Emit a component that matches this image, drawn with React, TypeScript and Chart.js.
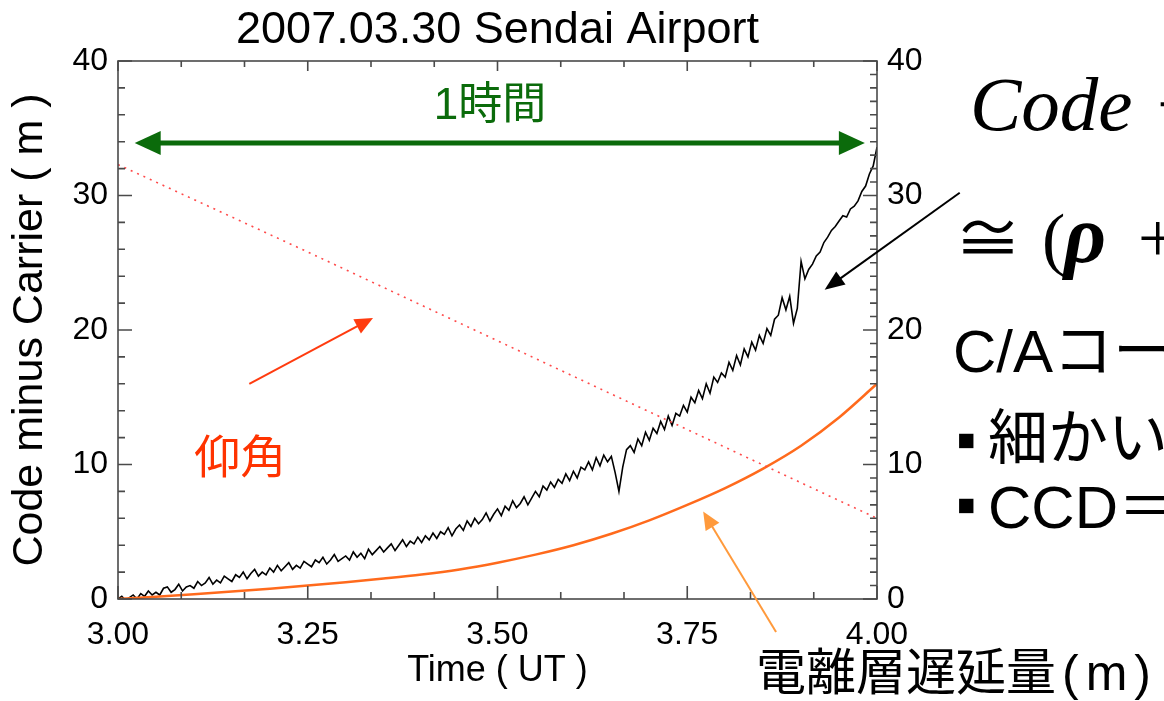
import React, { useEffect, useRef } from "react";
import { Chart, registerables } from "chart.js";

Chart.register(...registerables);

// ---------- data ----------
const TITLE = "2007.03.30 Sendai Airport";
const X_TITLE = "Time ( UT )";
const Y_TITLE = "Code minus Carrier ( m )";

const X_TICK_VALUES = [3.0, 3.25, 3.5, 3.75, 4.0];
const Y_TICK_VALUES = [0, 10, 20, 30, 40];

// code-minus-carrier samples, every 0.005 h starting at 3.00 UT
const CMC_START = 3.0;
const CMC_STEP = 0.005;
const CMC_VALUES = [
  0.0, 0.2, -0.1, 0.1, 0.3, 0.0, 0.4, 0.2, 0.6, 0.3,
  0.5, 0.3, 0.8, 0.9, 0.5, 0.7, 1.1, 0.6, 0.9, 1.0,
  0.8, 1.3, 1.0, 1.2, 1.6, 1.1, 1.4, 1.2, 1.7, 1.5,
  1.3, 1.8, 1.6, 2.0, 1.5, 1.9, 2.2, 1.7, 2.0, 1.8,
  2.3, 2.0, 2.5, 2.1, 2.4, 2.7, 2.2, 2.5, 2.3, 2.8,
  2.6, 2.4, 2.9, 2.7, 3.1, 2.6, 2.9, 3.3, 2.8, 3.0,
  3.2, 2.9, 3.5, 3.1, 3.4, 3.0, 3.7, 3.3, 3.6, 3.9,
  3.5, 3.8, 4.1, 3.6, 4.0, 4.4, 3.9, 4.3, 4.1, 4.6,
  4.2, 4.7, 4.4, 4.9, 4.5, 5.0, 4.8, 5.3, 4.7, 5.2,
  5.5, 5.1, 5.8, 5.4, 6.0, 5.6, 5.9, 6.4, 5.8, 6.3,
  6.7, 6.2, 6.9, 6.6, 7.3, 6.8, 7.1, 7.6, 7.0, 7.5,
  8.0, 7.6, 8.4, 8.1, 8.7, 8.3, 8.9, 8.6, 9.3, 8.8,
  9.5, 9.0, 9.8, 9.6, 10.2, 9.6, 10.5, 9.9, 10.7, 10.2,
  10.6, 9.4, 8.0, 9.8, 11.1, 11.4, 10.9, 11.9, 11.4, 12.4,
  11.8, 12.7, 12.3, 13.2, 12.6, 13.6, 12.9, 13.8, 13.6, 14.4,
  13.9, 15.0, 14.6, 15.5, 14.9, 16.0, 15.3, 16.5, 16.1, 16.8,
  16.5, 17.6, 17.0, 18.1, 17.4, 18.6, 18.0, 19.1, 18.5, 19.6,
  19.0, 20.1, 19.6, 20.8, 21.1, 22.4, 21.5, 22.5, 20.5, 21.6,
  25.1, 23.8, 24.5, 24.9, 25.5, 25.8, 26.5, 26.9, 27.4, 27.7,
  28.1, 28.5, 28.4, 29.0, 29.2, 29.6, 30.3, 30.7, 31.6, 32.2,
  33.6,
];

// ionospheric delay (m)
const IONO_TIMES = [3.0, 3.05, 3.1, 3.15, 3.2, 3.25, 3.3, 3.35, 3.4, 3.45, 3.5, 3.55, 3.6, 3.65, 3.7, 3.75, 3.8, 3.85, 3.9, 3.95, 4.0];
const IONO_VALUES = [0.0, 0.17, 0.35, 0.55, 0.77, 1.0, 1.25, 1.52, 1.82, 2.2, 2.7, 3.3, 4.0, 4.85, 5.85, 7.0, 8.25, 9.7, 11.4, 13.5, 16.0];

// elevation angle (deg, right axis)
const ELEV_TIMES = [3.0, 3.25, 3.5, 3.75, 4.0];
const ELEV_VALUES = [32.3, 25.8, 19.2, 12.6, 6.0];

// annotation anchors (data space: time, metres)
const SPAN_ARROW = { t0: 3.022, t1: 3.984, v: 33.9 };
const SPAN_LABEL = { t: 3.49, v: 36.6, text: "1時間" };
const ELEV_LABEL = { t: 3.161, v: 10.3, text: "仰角" };
const ELEV_ARROW = { t0: 3.173, v0: 16.0, t1: 3.336, v1: 20.9 };
const CMC_ARROW = { t0: 4.109, v0: 30.2, t1: 3.931, v1: 23.0 };
const IONO_ARROW = { t0: 3.867, v0: -2.45, t1: 3.771, v1: 6.5 };
const IONO_LABEL = "電離層遅延量";
const IONO_UNIT = "(m)";

const SANS = '"Liberation Sans", Arial, Helvetica, sans-serif';
const CJK = '"Liberation Sans", "Noto Sans CJK JP", sans-serif';
const SERIF = '"Liberation Serif", "DejaVu Serif", serif';

function drawHead(ctx: CanvasRenderingContext2D, x: number, y: number, ang: number, len: number, half: number) {
  const bx = x - len * Math.cos(ang);
  const by = y - len * Math.sin(ang);
  const px = -Math.sin(ang);
  const py = Math.cos(ang);
  ctx.beginPath();
  ctx.moveTo(x, y);
  ctx.lineTo(bx + px * half, by + py * half);
  ctx.lineTo(bx - px * half, by - py * half);
  ctx.closePath();
  ctx.fill();
}

function drawArrow(ctx: CanvasRenderingContext2D, x0: number, y0: number, x1: number, y1: number,
  color: string, width: number, len: number, half: number, both = false) {
  const ang = Math.atan2(y1 - y0, x1 - x0);
  ctx.save();
  ctx.strokeStyle = color;
  ctx.fillStyle = color;
  ctx.lineWidth = width;
  const sx = both ? x0 + Math.cos(ang) * len * 0.8 : x0;
  const sy = both ? y0 + Math.sin(ang) * len * 0.8 : y0;
  const ex = x1 - Math.cos(ang) * len * 0.8;
  const ey = y1 - Math.sin(ang) * len * 0.8;
  ctx.beginPath();
  ctx.moveTo(sx, sy);
  ctx.lineTo(ex, ey);
  ctx.stroke();
  drawHead(ctx, x1, y1, ang, len, half);
  if (both) drawHead(ctx, x0, y0, ang + Math.PI, len, half);
  ctx.restore();
}

const frameTicks = {
  id: "frameTicks",
  afterDatasetsDraw(chart: any) {
    const { ctx, chartArea } = chart;
    const { left, right, top, bottom } = chartArea;
    const xs = chart.scales.x;
    const ys = chart.scales.y;
    ctx.save();
    ctx.strokeStyle = "#4a4a4a";
    ctx.lineWidth = 1.6;
    ctx.strokeRect(left, top, right - left, bottom - top);
    ctx.beginPath();
    // left axis: every 2 m
    for (let k = 0; k <= 20; k++) {
      const v = k * 2;
      const p = ys.getPixelForValue(v);
      const len = v % 10 === 0 ? 14 : 7;
      ctx.moveTo(left, p); ctx.lineTo(left + len, p);
    }
    // right axis: every 1
    for (let k = 0; k <= 40; k++) {
      const p = ys.getPixelForValue(k);
      const len = k % 10 === 0 ? 14 : 7;
      ctx.moveTo(right, p); ctx.lineTo(right - len, p);
    }
    // bottom / top: every 5 minutes
    for (let k = 0; k <= 12; k++) {
      const p = xs.getPixelForValue(3 + k / 12);
      const major = k % 3 === 0;
      ctx.moveTo(p, bottom); ctx.lineTo(p, bottom - (major ? 13 : 7));
      ctx.moveTo(p, top); ctx.lineTo(p, top + (major ? 10 : 6));
    }
    ctx.stroke();
    ctx.restore();
  },
  afterDraw(chart: any) {
    const { ctx } = chart;
    const xs = chart.scales.x;
    const ys = chart.scales.y;
    const X = (t: number) => xs.getPixelForValue(t);
    const Y = (v: number) => ys.getPixelForValue(v);

    // 1 hour span arrow
    drawArrow(ctx, X(SPAN_ARROW.t0), Y(SPAN_ARROW.v), X(SPAN_ARROW.t1), Y(SPAN_ARROW.v), "#0b6b0b", 5, 26, 12, true);
    ctx.save();
    ctx.fillStyle = "#0b6b0b";
    ctx.font = `44px ${CJK}`;
    ctx.textAlign = "center";
    ctx.textBaseline = "middle";
    ctx.fillText(SPAN_LABEL.text, X(SPAN_LABEL.t), Y(SPAN_LABEL.v));

    // elevation label + arrow
    ctx.fillStyle = "#ff3300";
    ctx.font = `46px ${CJK}`;
    ctx.fillText(ELEV_LABEL.text, X(ELEV_LABEL.t), Y(ELEV_LABEL.v));
    ctx.restore();
    drawArrow(ctx, X(ELEV_ARROW.t0), Y(ELEV_ARROW.v0), X(ELEV_ARROW.t1), Y(ELEV_ARROW.v1), "#ff3b0f", 2, 18, 8);

    // CMC arrow
    drawArrow(ctx, X(CMC_ARROW.t0), Y(CMC_ARROW.v0), X(CMC_ARROW.t1), Y(CMC_ARROW.v1), "#000000", 2, 20, 8);
    // iono arrow
    drawArrow(ctx, X(IONO_ARROW.t0), Y(IONO_ARROW.v0), X(IONO_ARROW.t1), Y(IONO_ARROW.v1), "#ff9a3c", 2, 18, 8);

    // slide text on the right
    ctx.save();
    ctx.fillStyle = "#000";
    ctx.textAlign = "left";
    ctx.textBaseline = "alphabetic";
    ctx.font = `italic 77px ${SERIF}`;
    ctx.fillText("Code − Carrier", 970, 130);
    ctx.font = `68px "Noto Sans CJK JP", ${SERIF}`;
    ctx.fillText("≅", 954, 262);
    ctx.font = `70px ${SERIF}`;
    ctx.fillText("(", 1042, 262);
    ctx.font = `italic bold 82px ${SERIF}`;
    ctx.fillText("ρ", 1064, 262);
    ctx.font = `70px ${SERIF}`;
    ctx.fillText("+", 1138, 262);
    ctx.font = `60px ${CJK}`;
    ctx.fillText("C/Aコード", 953, 372);
    ctx.fillText("細かい", 988, 459);
    ctx.fillText("CCD＝", 988, 528);
    ctx.font = `58px ${CJK}`;
    ctx.fillText("▪", 956, 459);
    ctx.fillText("▪", 956, 524);
    ctx.font = `50px ${CJK}`;
    ctx.fillText(IONO_LABEL, 756, 690);
    const w = ctx.measureText(IONO_LABEL).width;
    (ctx as any).letterSpacing = "7px";
    ctx.fillText(IONO_UNIT, 756 + w + 6, 690);
    ctx.restore();
  },
};

export default function App() {
  const ref = useRef<HTMLCanvasElement>(null);
  useEffect(() => {
    document.body.style.margin = "0";
    const canvas = ref.current!;
    const cmc = CMC_VALUES.map((v, i) => ({ x: CMC_START + i * CMC_STEP, y: v }));
    const iono = IONO_TIMES.map((t, i) => ({ x: t, y: IONO_VALUES[i] }));
    const elev = ELEV_TIMES.map((t, i) => ({ x: t, y: ELEV_VALUES[i] }));
    const tickFont = { family: SANS, size: 32 };
    const chart = new Chart(canvas, {
      type: "line",
      data: {
        datasets: [
          { label: "elevation", data: elev, borderColor: "#ff4a4a", borderWidth: 1.6, borderDash: [2, 5], pointRadius: 0, fill: false, tension: 0 },
          { label: "iono", data: iono, borderColor: "#ff6a1c", borderWidth: 2.5, pointRadius: 0, fill: false, cubicInterpolationMode: "monotone" },
          { label: "cmc", data: cmc, borderColor: "#000", borderWidth: 1.6, pointRadius: 0, fill: false, tension: 0 },
        ],
      },
      options: {
        animation: false,
        responsive: false,
        devicePixelRatio: 1,
        layout: { padding: 0 },
        plugins: {
          legend: { display: false },
          tooltip: { enabled: false },
          title: {
            display: true, text: TITLE, fullSize: false, color: "#000",
            font: { family: SANS, size: 45, weight: "normal", lineHeight: 1.2 },
            padding: { top: 4, bottom: 3 },
          },
        },
        scales: {
          x: {
            type: "linear", min: 3, max: 4,
            grid: { display: false, drawTicks: false }, border: { display: false },
            afterBuildTicks: (s: any) => { s.ticks = X_TICK_VALUES.map((v) => ({ value: v })); },
            ticks: { color: "#000", font: tickFont, padding: 17, maxRotation: 0, autoSkip: false, callback: (v: any) => Number(v).toFixed(2) },
            title: { display: true, text: X_TITLE, color: "#000", font: { family: SANS, size: 36 }, padding: { top: 0, bottom: 8 } },
            afterFit: (s: any) => { s.height = 102; },
          },
          y: {
            type: "linear", position: "left", min: 0, max: 40,
            grid: { display: false, drawTicks: false }, border: { display: false },
            afterBuildTicks: (s: any) => { s.ticks = Y_TICK_VALUES.map((v) => ({ value: v })); },
            ticks: { color: "#000", font: tickFont, padding: 10 },
            title: { display: true, text: Y_TITLE, color: "#000", font: { family: SANS, size: 43 }, padding: { top: 4, bottom: 0 } },
            afterFit: (s: any) => { s.width = 118; },
          },
          y2: {
            type: "linear", position: "right", min: 0, max: 40,
            grid: { display: false, drawTicks: false }, border: { display: false },
            afterBuildTicks: (s: any) => { s.ticks = Y_TICK_VALUES.map((v) => ({ value: v })); },
            ticks: { color: "#000", font: tickFont, padding: 10 },
            afterFit: (s: any) => { s.width = 287; },
          },
        },
      },
      plugins: [frameTicks],
    } as any);
    return () => chart.destroy();
  }, []);
  return <canvas ref={ref} width={1164} height={701} style={{ display: "block" }} />;
}
